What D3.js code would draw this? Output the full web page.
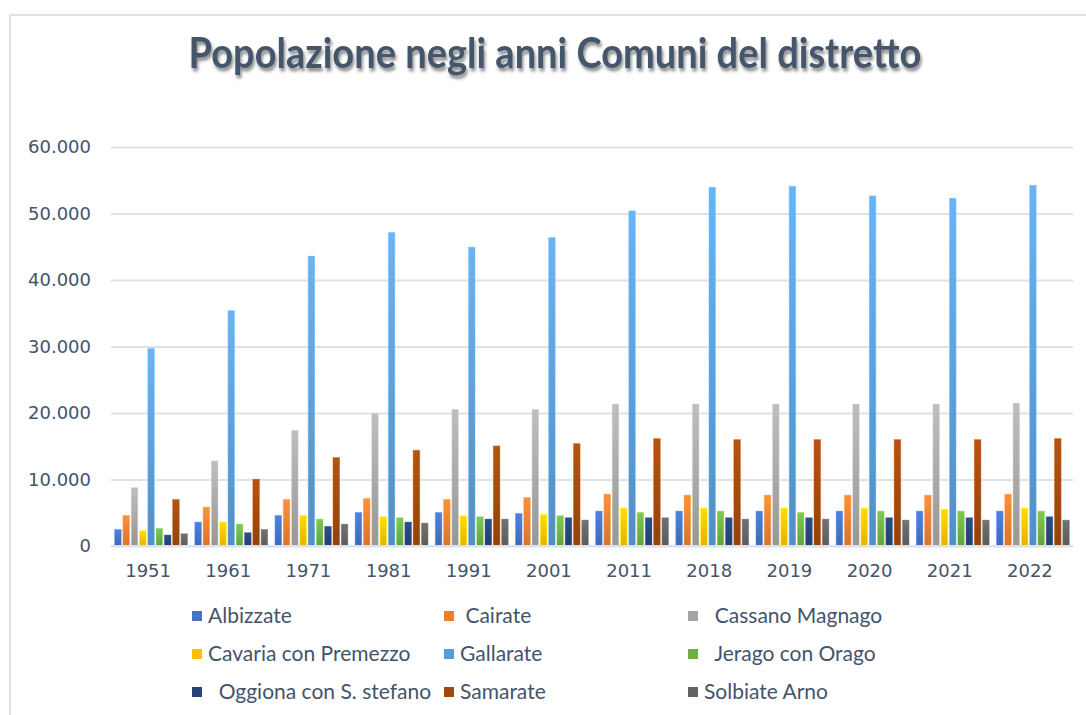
<!DOCTYPE html>
<html>
<head>
<meta charset="utf-8">
<script src="https://cdn.jsdelivr.net/npm/d3@7"></script>
<style>
  body { margin: 0; background: #fff; }
  svg { display: block; }
  .legend-label { white-space: pre; }
</style>
</head>
<body>
<div id="chart"></div>
<script>
const WIDTH = 1086
const HEIGHT = 715
const TEXT_COLOR = '#44546a'
const GRID_COLOR = '#dde2e9'
const AXIS_FONT = 'DejaVu Sans, Verdana, sans-serif'

// categorie (anni)
const YEARS = ['1951', '1961', '1971', '1981', '1991', '2001', '2011', '2018', '2019', '2020', '2021', '2022']
const Y_TICKS = [0, 10000, 20000, 30000, 40000, 50000, 60000]

// serie: un comune per array
const albizzate = [2500, 3600, 4600, 5050, 5050, 4900, 5250, 5250, 5250, 5250, 5250, 5250]
const cairate = [4600, 5850, 7000, 7150, 7000, 7300, 7800, 7650, 7650, 7650, 7650, 7800]
const cassanoMagnago = [8800, 12800, 17400, 19950, 20550, 20550, 21350, 21350, 21350, 21350, 21350, 21500]
const cavaria = [2300, 3600, 4600, 4400, 4550, 4750, 5700, 5700, 5700, 5700, 5550, 5700]
const gallarate = [29700, 35400, 43600, 47150, 44950, 46400, 50400, 53950, 54100, 52650, 52300, 54250]
const jerago = [2650, 3300, 4050, 4250, 4400, 4550, 5050, 5250, 5050, 5250, 5250, 5250]
const oggiona = [1650, 2000, 2950, 3600, 4050, 4250, 4250, 4250, 4250, 4250, 4250, 4400]
const samarate = [7000, 10050, 13300, 14400, 15050, 15400, 16150, 16000, 16000, 16000, 16000, 16150]
const solbiate = [1850, 2500, 3300, 3450, 4050, 3900, 4250, 4050, 4050, 3900, 3900, 3900]

const SERIES_NAMES = ['Albizzate', ' Cairate', '  Cassano Magnago', 'Cavaria con Premezzo', 'Gallarate',
  '  Jerago con Orago', '  Oggiona con S. stefano', 'Samarate', 'Solbiate Arno']
const SERIES_VALUES = [albizzate, cairate, cassanoMagnago, cavaria, gallarate, jerago, oggiona, samarate, solbiate]
const COLORS = ['#4472c4', '#ed7d31', '#a5a5a5', '#ffc000', '#5b9bd5', '#70ad47', '#264478', '#9e480e', '#636363']

const series = SERIES_NAMES.map((name, i) => ({ name, values: SERIES_VALUES[i], color: COLORS[i], key: 's' + i }))

const margin = { left: 111, right: 13, top: 147, bottom: 169 }
const plotBottom = HEIGHT - margin.bottom
const plotRight = WIDTH - margin.right

const svg = d3.select('#chart').append('svg').attr('width', WIDTH).attr('height', HEIGHT)
const defs = svg.append('defs')

// gradienti delle barre
series.forEach(s => {
  const g = defs.append('linearGradient').attr('id', 'grad-' + s.key)
    .attr('x1', 0).attr('y1', 0).attr('x2', 0).attr('y2', 1)
  g.append('stop').attr('offset', '0%').attr('stop-color', d3.color(s.color).brighter(0.4))
  g.append('stop').attr('offset', '100%').attr('stop-color', d3.color(s.color).darker(0.25))
})

const shadow = defs.append('filter').attr('id', 'title-shadow')
  .attr('x', '-5%').attr('y', '-30%').attr('width', '110%').attr('height', '170%')
shadow.append('feDropShadow').attr('dx', 1.5).attr('dy', 3).attr('stdDeviation', 1.6)
  .attr('flood-color', '#000').attr('flood-opacity', 0.45)

// cornice
svg.append('rect')
  .attr('x', 10).attr('y', 15).attr('width', 1200).attr('height', 800)
  .attr('fill', 'none').attr('stroke', GRID_COLOR).attr('stroke-width', 2)

// titolo
const title = svg.append('text')
  .attr('text-anchor', 'middle')
  .attr('font-family', 'Lato, sans-serif')
  .attr('font-weight', 'bold')
  .attr('font-size', 32)
  .attr('fill', TEXT_COLOR)
  .attr('filter', 'url(#title-shadow)')
  .text('Popolazione negli anni Comuni del distretto')
const tw = title.node().getComputedTextLength()
title.attr('font-size', 32 * 733 / tw)
  .attr('transform', 'translate(555, 68) scale(1, 1.12)')

// scale
const x0 = d3.scaleBand().domain(YEARS).range([margin.left, plotRight]).paddingInner(0.09).paddingOuter(0.045)
const x1 = d3.scaleBand().domain(series.map(s => s.key)).range([0, x0.bandwidth()]).paddingInner(0.2)
const y = d3.scaleLinear().domain([0, 60000]).range([plotBottom, margin.top])

const it = d3.formatLocale({ decimal: ',', thousands: '.', grouping: [3], currency: ['€', ''] })
const fmt = it.format(',')

// griglia orizzontale
const gridAxis = d3.axisLeft(y).tickValues(Y_TICKS).tickSize(-(plotRight - margin.left)).tickFormat('')
const gridEl = svg.append('g').attr('transform', `translate(${margin.left}, 0)`).call(gridAxis)
gridEl.select('.domain').remove()
gridEl.selectAll('.tick line').attr('stroke', GRID_COLOR).attr('stroke-width', 2)

// etichette asse Y
const yAxis = d3.axisLeft(y).tickValues(Y_TICKS).tickSize(0).tickPadding(20).tickFormat(fmt)
const yEl = svg.append('g').attr('transform', `translate(${margin.left}, 0)`)
  .call(yAxis)
  .attr('font-family', AXIS_FONT).attr('font-size', 18)
yEl.select('.domain').remove()
yEl.selectAll('.tick text').attr('fill', TEXT_COLOR)

// barre
const groups = svg.append('g').selectAll('g').data(YEARS).join('g')
  .attr('transform', d => `translate(${x0(d)}, 0)`)

groups.selectAll('rect')
  .data((d, i) => series.map(s => ({ key: s.key, value: s.values[i], color: s.color })))
  .join('rect')
  .attr('x', d => x1(d.key))
  .attr('y', d => y(d.value))
  .attr('width', x1.bandwidth())
  .attr('height', d => plotBottom - y(d.value))
  .attr('fill', d => `url(#grad-${d.key})`)
  .attr('stroke', d => d3.color(d.color).brighter(0.8))
  .attr('stroke-opacity', 0.5)
  .attr('stroke-width', 0.8)

// asse X
const xAxis = d3.axisBottom(x0).tickSize(0).tickPadding(18)
const xEl = svg.append('g').attr('transform', `translate(0, ${plotBottom})`)
  .call(xAxis)
  .attr('font-family', AXIS_FONT).attr('font-size', 18)
xEl.select('.domain').remove()
xEl.selectAll('.tick text').attr('fill', TEXT_COLOR).attr('dx', -3)

// linea di base
svg.append('line')
  .attr('x1', margin.left).attr('x2', plotRight)
  .attr('y1', plotBottom).attr('y2', plotBottom)
  .attr('stroke', GRID_COLOR).attr('stroke-width', 2)

// legenda
const legendCols = [192, 444, 688]
const legendRows = [616, 654, 692]
const legend = svg.append('g').selectAll('g').data(series).join('g')
  .attr('transform', (d, i) => `translate(${legendCols[i % 3]}, ${legendRows[Math.floor(i / 3)]})`)

legend.append('rect')
  .attr('x', 0).attr('y', -5).attr('width', 10).attr('height', 10)
  .attr('fill', d => d.color)

legend.append('text')
  .attr('class', 'legend-label')
  .attr('x', 16).attr('y', 0).attr('dy', '0.35em')
  .attr('font-family', 'Lato, sans-serif')
  .attr('font-size', 21)
  .attr('fill', TEXT_COLOR)
  .text(d => d.name)
</script>
</body>
</html>
